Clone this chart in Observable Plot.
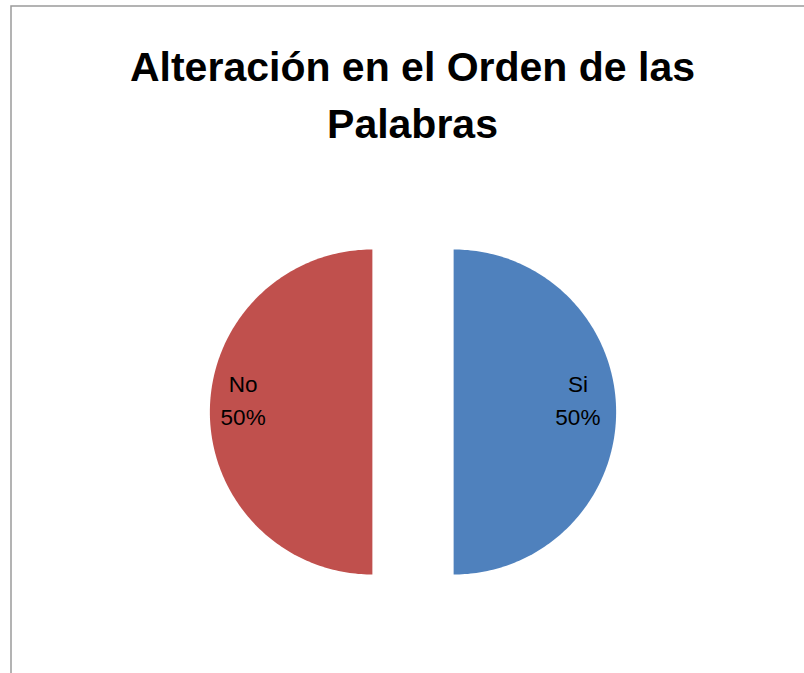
<!DOCTYPE html>
<html>
<head>
<meta charset="utf-8">
<script src="https://cdn.jsdelivr.net/npm/d3@7"></script>
<script src="https://cdn.jsdelivr.net/npm/@observablehq/plot@0.6"></script>
<style>
  html, body { margin: 0; padding: 0; background: #fff; }
  #chart svg { display: block; }
</style>
</head>
<body>
<div id="chart"></div>
<script>
const title = "Alteración en el Orden de las\nPalabras";
const categories = ["Si", "No"];
const values = [50, 50];
const colors = ["#4F81BD", "#C0504D"];

const explode = 0.25;
const labelRadius = 0.78;

const arcs = d3.pie().sort(null).startAngle(0).endAngle(2 * Math.PI)(values);
const total = d3.sum(values);

// slice outlines (unit radius, y up, clockwise from 12 o'clock)
const slicePts = [];
const labels = [];
arcs.forEach((a, i) => {
  const mid = (a.startAngle + a.endAngle) / 2;
  const ox = explode * Math.sin(mid), oy = explode * Math.cos(mid);
  const steps = 180;
  slicePts.push({cat: categories[i], x: ox, y: oy});
  for (let k = 0; k <= steps; k++) {
    const t = a.startAngle + (a.endAngle - a.startAngle) * k / steps;
    slicePts.push({cat: categories[i], x: ox + Math.sin(t), y: oy + Math.cos(t)});
  }
  labels.push({
    cat: categories[i],
    x: ox + labelRadius * Math.sin(mid),
    y: oy + labelRadius * Math.cos(mid),
    text: categories[i] + "\n" + Math.round(values[i] / total * 100) + "%"
  });
});

const chart = Plot.plot({
  width: 804,
  height: 673,
  margin: 0,
  style: {background: "#fff", fontFamily: "'Liberation Sans', Arial, sans-serif"},
  x: {domain: [-2.53846, 2.40923], axis: null},
  y: {domain: [-1.60923, 2.53231], axis: null},
  color: {domain: categories, range: colors},
  marks: [
    Plot.frame({stroke: "#9a9a9a", strokeWidth: 1.5, insetLeft: 10.5, insetTop: 5.5, insetRight: -10, insetBottom: -10}),
    Plot.line(slicePts, {x: "x", y: "y", z: "cat", fill: "cat", stroke: null, curve: "linear-closed"}),
    Plot.text(labels, {x: "x", y: "y", text: "text", fontSize: 22.5, lineHeight: 1.47, lineAnchor: "middle", dx: -2.5, dy: -14, fill: "#000"}),
    Plot.text([title], {frameAnchor: "top", dx: 10, dy: 41, lineAnchor: "top", fontSize: 41, fontWeight: "bold", lineHeight: 1.37, fill: "#000"})
  ]
});
document.getElementById("chart").appendChild(chart);
</script>
</body>
</html>
